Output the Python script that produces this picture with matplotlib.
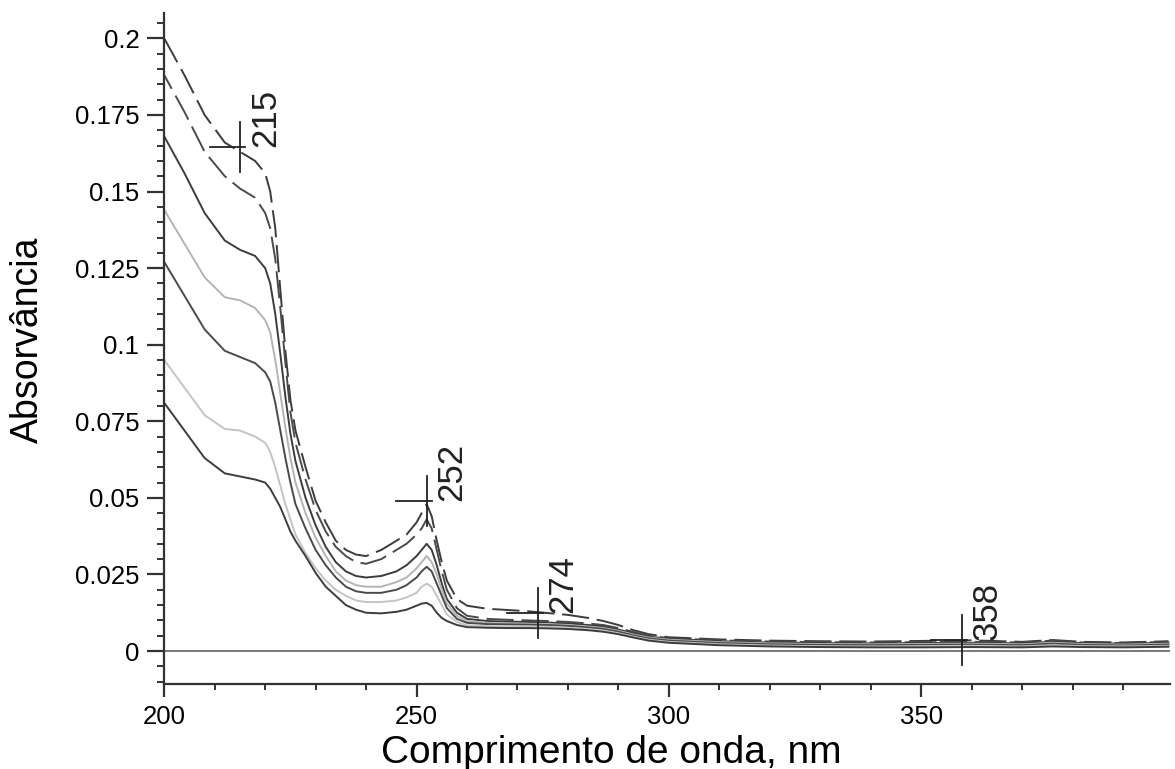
import matplotlib
matplotlib.use("Agg")
import matplotlib.pyplot as plt
from matplotlib.ticker import MultipleLocator, FixedLocator, FuncFormatter
import matplotlib.transforms as mtransforms

plt.rcParams['font.family'] = ['Liberation Sans', 'DejaVu Sans']

# Wavelength grid (nm)
wavelength = [200, 204, 208, 212, 215, 218, 220, 221, 222, 223,
              224, 225, 226, 228, 230, 232, 234, 236, 238, 240,
              243, 246, 248, 250, 251, 252, 253, 254, 255, 256,
              258, 260, 264, 268, 272, 276, 280, 284, 287, 290,
              293, 296, 300, 310, 320, 330, 340, 350, 360, 370,
              376, 382, 390, 399]

# Absorbance spectra, highest to lowest
abs_1 = [0.200, 0.188, 0.175, 0.166, 0.163, 0.160, 0.156, 0.150, 0.138, 0.118,
         0.098, 0.082, 0.072, 0.060, 0.049, 0.042, 0.036, 0.033, 0.0315, 0.031,
         0.033, 0.036, 0.038, 0.042, 0.045, 0.048, 0.044, 0.036, 0.029, 0.023,
         0.017, 0.0148, 0.0138, 0.0134, 0.0130, 0.0124, 0.0118, 0.0108, 0.0098, 0.0085,
         0.0068, 0.0055, 0.0045, 0.0038, 0.0034, 0.0032, 0.0031, 0.0033, 0.0035, 0.0030,
         0.0036, 0.0030, 0.0028, 0.0032]
abs_2 = [0.188, 0.176, 0.163, 0.155, 0.151, 0.148, 0.143, 0.138, 0.128, 0.112,
         0.094, 0.078, 0.068, 0.056, 0.046, 0.039, 0.034, 0.031, 0.029, 0.0285,
         0.030, 0.033, 0.035, 0.038, 0.040, 0.043, 0.040, 0.033, 0.026, 0.020,
         0.014, 0.0115, 0.0105, 0.0102, 0.0100, 0.0098, 0.0095, 0.0090, 0.0085, 0.0075,
         0.0062, 0.0050, 0.0042, 0.0035, 0.0031, 0.0029, 0.0028, 0.0029, 0.0030, 0.0028,
         0.0034, 0.0028, 0.0026, 0.0030]
abs_3 = [0.168, 0.156, 0.143, 0.134, 0.131, 0.129, 0.125, 0.120, 0.110, 0.097,
         0.083, 0.071, 0.062, 0.050, 0.041, 0.034, 0.029, 0.026, 0.0245, 0.024,
         0.0245, 0.026, 0.028, 0.031, 0.033, 0.035, 0.033, 0.028, 0.022, 0.017,
         0.0125, 0.0105, 0.0098, 0.0096, 0.0095, 0.0093, 0.0090, 0.0085, 0.0080, 0.0070,
         0.0058, 0.0047, 0.0040, 0.0032, 0.0028, 0.0026, 0.0025, 0.0026, 0.0027, 0.0025,
         0.0030, 0.0026, 0.0024, 0.0027]
abs_4 = [0.144, 0.133, 0.122, 0.1155, 0.1145, 0.112, 0.108, 0.104, 0.095, 0.084,
         0.073, 0.063, 0.055, 0.045, 0.037, 0.031, 0.026, 0.023, 0.0215, 0.021,
         0.021, 0.0225, 0.024, 0.027, 0.029, 0.031, 0.029, 0.025, 0.020, 0.0155,
         0.0115, 0.0098, 0.0092, 0.0090, 0.0089, 0.0088, 0.0085, 0.0080, 0.0075, 0.0066,
         0.0054, 0.0044, 0.0037, 0.0029, 0.0025, 0.0023, 0.0022, 0.0023, 0.0024, 0.0022,
         0.0027, 0.0023, 0.0021, 0.0024]
abs_5 = [0.127, 0.116, 0.105, 0.098, 0.096, 0.094, 0.091, 0.088, 0.081, 0.072,
         0.063, 0.055, 0.048, 0.040, 0.033, 0.028, 0.024, 0.021, 0.0195, 0.019,
         0.019, 0.020, 0.0215, 0.024, 0.026, 0.0275, 0.026, 0.022, 0.018, 0.014,
         0.0105, 0.0092, 0.0088, 0.0087, 0.0086, 0.0085, 0.0082, 0.0077, 0.0072, 0.0063,
         0.0051, 0.0041, 0.0034, 0.0026, 0.0022, 0.0020, 0.0019, 0.0020, 0.0021, 0.0019,
         0.0024, 0.0020, 0.0018, 0.0021]
abs_6 = [0.095, 0.086, 0.077, 0.0725, 0.072, 0.070, 0.068, 0.065, 0.060, 0.054,
         0.048, 0.043, 0.038, 0.032, 0.027, 0.023, 0.020, 0.018, 0.0165, 0.016,
         0.016, 0.0165, 0.0175, 0.019, 0.021, 0.022, 0.021, 0.018, 0.015, 0.012,
         0.0095, 0.0084, 0.0081, 0.0080, 0.0080, 0.0079, 0.0076, 0.0072, 0.0067, 0.0058,
         0.0047, 0.0037, 0.0030, 0.0022, 0.0018, 0.0016, 0.0015, 0.0016, 0.0017, 0.0015,
         0.0019, 0.0016, 0.0015, 0.0017]
abs_7 = [0.081, 0.072, 0.063, 0.058, 0.057, 0.056, 0.055, 0.053, 0.050, 0.047,
         0.043, 0.039, 0.036, 0.031, 0.0255, 0.021, 0.018, 0.015, 0.0135, 0.0125,
         0.0123, 0.0128, 0.0135, 0.0148, 0.0155, 0.0157, 0.0148, 0.0125, 0.0108, 0.0098,
         0.0085, 0.0078, 0.0076, 0.0075, 0.0075, 0.0074, 0.0072, 0.0068, 0.0063, 0.0055,
         0.0044, 0.0034, 0.0027, 0.0019, 0.0015, 0.0013, 0.0012, 0.0012, 0.0013, 0.0012,
         0.0015, 0.0013, 0.0012, 0.0014]

# Marked maxima: wavelength (nm) and absorbance at the cross
peak_nm = [215, 252, 274, 358]
peak_abs = [0.1645, 0.049, 0.0125, 0.0036]

dark = '#3c3c3c'
light = '#b4b4b4'
series = [
    (abs_1, dark, (0, (14, 4))),
    (abs_2, '#4a4a4a', (6, (14, 4))),
    (abs_3, dark, '-'),
    (abs_4, light, '-'),
    (abs_5, '#4a4a4a', '-'),
    (abs_6, '#c4c4c4', '-'),
    (abs_7, dark, '-'),
]

fig = plt.figure(figsize=(11.75, 7.69), dpi=100)
ax = fig.add_axes([0.1398, 0.1105, 0.8559, 0.8726])

x_lo, x_hi = 200, 399.3
ax.plot([x_lo, x_hi], [0, 0], color='#6e6e6e', lw=1.3, zorder=1)

for vals, col, ls in series:
    ax.plot(wavelength, vals, color=col, lw=1.4, linestyle=ls, zorder=2)

# Crosses at the marked maxima with rotated labels
for nm, a in zip(peak_nm, peak_abs):
    ax.plot([nm - 6, nm + 1], [a, a], color='#222222', lw=1.3, zorder=3)
    ax.plot([nm, nm], [a - 0.0082, a + 0.0082], color='#222222', lw=1.3, zorder=3)
    off = mtransforms.offset_copy(ax.transData, fig=fig, x=9, y=0, units='dots')
    ax.text(nm, a, str(nm), transform=off, rotation=90, ha='left', va='bottom',
            fontsize=25, color='#222222')

ax.set_xlim(x_lo, x_hi)
ax.set_ylim(-0.01077, 0.2083)

for side in ('top', 'right'):
    ax.spines[side].set_visible(False)
for side in ('left', 'bottom'):
    ax.spines[side].set_linewidth(1.6)
    ax.spines[side].set_color('#333333')

ax.xaxis.set_major_locator(FixedLocator([200, 250, 300, 350]))
ax.xaxis.set_minor_locator(MultipleLocator(10))
ax.yaxis.set_major_locator(MultipleLocator(0.025))
ax.yaxis.set_minor_locator(MultipleLocator(0.005))
ax.yaxis.set_major_formatter(FuncFormatter(lambda v, p: '{:g}'.format(round(v, 4))))

ax.tick_params(axis='y', which='major', direction='out', length=12, width=1.6,
               labelsize=18.5, pad=6, color='#333333')
ax.tick_params(axis='y', which='minor', direction='out', length=5, width=1.4,
               color='#333333')
ax.tick_params(axis='x', which='major', direction='out', length=9, width=1.6,
               labelsize=18.5, pad=6, color='#333333')
ax.tick_params(axis='x', which='minor', direction='out', length=4, width=1.4,
               color='#333333')

ax.set_xlabel('Comprimento de onda, nm', fontsize=28)
ax.xaxis.set_label_coords(0.445, -0.076)
ax.set_ylabel('Absorvância', fontsize=27)
ax.yaxis.set_label_coords(-0.118, 0.513)

fig.savefig('out.png', dpi=100)
